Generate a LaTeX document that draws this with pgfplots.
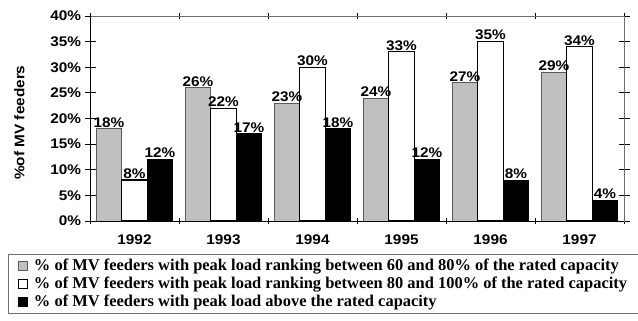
\documentclass[border=0pt]{standalone}
\usepackage{fontspec}
\setmainfont{Liberation Serif}
\setsansfont{Liberation Sans}[FakeStretch=1.1]
\usepackage{pgfplots}
\pgfplotsset{compat=1.18}
\definecolor{barGray}{RGB}{192,192,192}
\definecolor{edgeGray}{RGB}{90,90,90}
\definecolor{frameGray}{RGB}{110,110,110}
\begin{document}
\begin{tikzpicture}[x=1bp,y=1bp]
\path[use as bounding box] (0,0) rectangle (638,320);
\begin{axis}[
  at={(90bp,99bp)}, anchor=south west,
  scale only axis, width=534bp, height=205bp,
  ybar=0pt, bar width=25.5bp,
  xmin=-0.5, xmax=5.5, ymin=0, ymax=40,
  xtick={0,...,5}, xticklabels={1992,1993,1994,1995,1996,1997},
  minor xtick={-0.5,0.5,...,5.5},
  ytick={0,5,...,40},
  yticklabel={\pgfmathprintnumber{\tick}\%},
  /pgf/number format/assume math mode=true,
  tick align=center,
  xtick style={draw=none},
  minor x tick style={draw=black, line width=0.8bp},
  minor tick length=6bp,
  ytick style={draw=black, line width=0.8bp},
  major tick length=11bp,
  tick label style={font=\sffamily\bfseries\fontsize{14}{16}\selectfont},
  yticklabel style={xshift=0bp},
  xticklabel style={yshift=-5bp},
  axis line style={draw=frameGray, line width=0.8bp},
  ylabel={\%of MV feeders},
  ylabel style={font=\sffamily\bfseries\fontsize{14}{16}\selectfont, at={(-62bp,0.48)}, anchor=south},
  nodes near coords={\pgfmathprintnumber{\pgfplotspointmeta}\%},
  nodes near coords style={font=\sffamily\bfseries\fontsize{14}{16}\selectfont, inner sep=1bp},
  legend style={at={(-82bp,-33bp)}, anchor=north west, draw=frameGray, line width=0.8bp,
    font=\rmfamily\bfseries\fontsize{16.5}{18}\selectfont, row sep=1.8bp, column sep=5bp,
    inner xsep=9.5bp, inner ysep=3.5bp, nodes={inner sep=1.5bp}},
  legend cell align=left,
  legend image code/.code={\draw[#1, line width=0.6bp] (0bp,-4.5bp) rectangle (9bp,4.5bp);},
  clip=false,
]
\addplot[fill=barGray, draw=edgeGray, line width=1bp] coordinates {(0,18) (1,26) (2,23) (3,24) (4,27) (5,29)};
\addlegendentry{\% of MV feeders with peak load ranking between 60 and 80\% of the rated capacity}
\addplot[fill=white, draw=black, line width=1.1bp] coordinates {(0,8) (1,22) (2,30) (3,33) (4,35) (5,34)};
\addlegendentry{\% of MV feeders with peak load ranking between 80 and 100\% of the rated capacity}
\addplot[fill=black, draw=black, line width=1bp] coordinates {(0,12) (1,17) (2,18) (3,12) (4,8) (5,4)};
\addlegendentry{\% of MV feeders with peak load above the rated capacity}
\draw[black, line width=0.9bp] (rel axis cs:0,0) -- (rel axis cs:0,1);
\draw[black, line width=0.9bp] (rel axis cs:0,0) -- (rel axis cs:1,0);
\end{axis}
\end{tikzpicture}
\end{document}
